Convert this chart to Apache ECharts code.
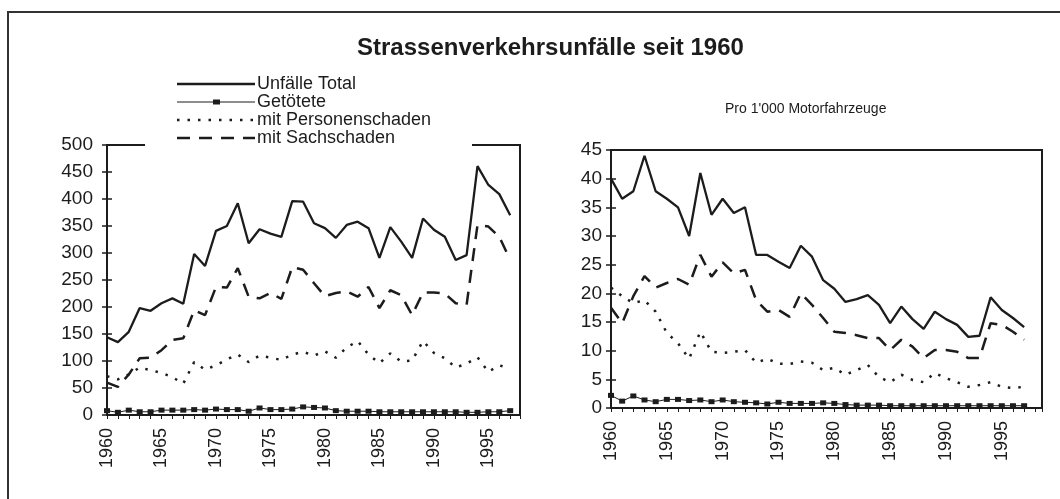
<!DOCTYPE html>
<html><head><meta charset="utf-8">
<script src="https://cdn.jsdelivr.net/npm/echarts@6/dist/echarts.min.js"></script>
<style>html,body{margin:0;padding:0;background:#fff}#c{width:1060px;height:499px}</style>
</head><body><div id="c"></div>
<script>
// ---- data ----
const years = [1960,1961,1962,1963,1964,1965,1966,1967,1968,1969,1970,1971,1972,1973,1974,1975,1976,1977,1978,1979,
               1980,1981,1982,1983,1984,1985,1986,1987,1988,1989,1990,1991,1992,1993,1994,1995,1996,1997];
const seriesNames = ['Unfälle Total','Getötete','mit Personenschaden','mit Sachschaden'];
// absolute (left chart)
const totalAbs  = [144,135,154,198,193,207,216,206,298,276,341,350,392,318,344,336,330,396,395,355,346,328,352,358,346,291,348,321,291,364,343,330,287,296,461,426,409,370];
const deathsAbs = [8,5,9,6,6,9,9,9,10,9,11,10,10,7,13,10,10,11,15,14,13,8,7,7,7,6,6,6,6,6,6,6,6,5,5,6,6,8];
const injuryAbs = [72,66,75,88,83,78,70,58,98,84,92,103,112,98,110,106,102,112,117,110,118,106,125,137,112,96,114,99,101,137,115,105,88,95,107,80,92,86];
const damageAbs = [60,52,75,105,106,120,139,142,194,185,237,236,272,219,216,226,215,274,269,244,220,226,229,219,237,198,231,222,185,227,227,225,207,204,352,349,330,287];
// per 1'000 vehicles (right chart)
const totalRate  = [40,36.5,37.8,44,37.8,36.5,35,30,41,33.7,36.5,34,35,26.7,26.7,25.5,24.4,28.3,26.4,22.3,20.8,18.5,19,19.7,18,14.8,17.7,15.5,13.8,16.8,15.5,14.5,12.4,12.6,19.3,17.1,15.7,14.1];
const deathsRate = [2.2,1.2,2.1,1.4,1.1,1.5,1.5,1.3,1.4,1.1,1.4,1.1,1.0,0.9,0.7,1.0,0.8,0.8,0.8,0.9,0.8,0.6,0.5,0.5,0.5,0.4,0.4,0.4,0.4,0.4,0.4,0.4,0.4,0.4,0.4,0.4,0.4,0.4];
const injuryRate = [21,19.5,18.3,18.8,16.8,13.1,11.3,8.6,13.3,9.8,9.6,9.8,10.1,7.9,8.6,7.7,7.7,8.1,7.9,6.6,7.0,5.8,6.6,7.5,5.4,4.5,5.8,4.9,4.5,6.1,5.2,4.5,3.7,4.0,4.5,3.7,3.5,3.7];
const damageRate = [17.5,14.8,19.5,23,21,21.8,22.5,21.5,26.7,22.9,25.4,23.5,24.1,18.8,16.8,17.1,15.9,20,18,15.7,13.3,13.1,12.7,12.2,12.2,10.1,11.9,10.7,8.7,10.1,10.1,9.8,8.7,8.7,14.8,14.5,13.3,11.9];
const yearLabels = ['1960','1965','1970','1975','1980','1985','1990','1995'];
const titleText = 'Strassenverkehrsunfälle seit 1960';
const subTitleText = "Pro 1'000 Motorfahrzeuge";

// ---- styling ----
const FONT = "'Liberation Sans', Arial, sans-serif";
const INK = '#1c1c1c';
const styles = [
  {lineStyle:{color:INK,width:2.3,type:'solid'}, symbol:'none'},
  {lineStyle:{color:INK,width:1,type:'solid'}, symbol:'rect', symbolSize:[6,5]},
  {lineStyle:{color:INK,width:2.5,type:[2.5,8]}, symbol:'none'},
  {lineStyle:{color:INK,width:2.5,type:[13,9]}, symbol:'none'}
];
const pair = arr => years.map((y,i)=>[y,arr[i]]);

function xAxisFor(gi, max){
  return {type:'value', gridIndex:gi, min:1960, max:max, interval:1,
    axisLine:{show:true, onZero:false, lineStyle:{color:INK,width:2}},
    axisTick:{show:true, length:4, lineStyle:{color:INK,width:1}},
    splitLine:{show:false},
    axisLabel:{rotate:90, margin:13, fontSize:18, fontFamily:FONT, color:INK,
      formatter: v => yearLabels.indexOf(String(v))>=0 ? String(v) : ''}};
}
function yAxesFor(gi, max, interval, margin){
  return [
    {type:'value', gridIndex:gi, min:0, max:max, interval:interval,
      axisLine:{show:true, lineStyle:{color:INK,width:2}},
      axisTick:{show:true, inside:false, length:5, lineStyle:{color:INK,width:1.5}},
      splitLine:{show:false},
      axisLabel:{fontSize:19, fontFamily:FONT, color:INK, margin:margin}},
    {type:'value', gridIndex:gi, min:0, max:max, interval:interval, position:'left',
      axisLine:{show:false}, axisLabel:{show:false}, splitLine:{show:false},
      axisTick:{show:true, inside:true, length:5, lineStyle:{color:INK,width:1.5}}}
  ];
}

const absData = [totalAbs, deathsAbs, injuryAbs, damageAbs];
const rateData = [totalRate, deathsRate, injuryRate, damageRate];
const series = [];
seriesNames.forEach((n,i)=>{
  series.push(Object.assign({type:'line', name:n, xAxisIndex:0, yAxisIndex:0, data:pair(absData[i]),
    itemStyle:{color:INK}, silent:true}, styles[i]));
  series.push(Object.assign({type:'line', name:n, xAxisIndex:1, yAxisIndex:2, data:pair(rateData[i]),
    itemStyle:{color:INK}, silent:true}, styles[i]));
});

// legend drawn as graphic
const legendRows = [84,102,120,138];
const legendX0 = 177, legendX1 = 255;
const legendGraphics = [{type:'rect', z:100, shape:{x:145,y:139,width:327,height:9}, style:{fill:'#fff'}}];
seriesNames.forEach((n,i)=>{
  const y = legendRows[i];
  const ls = styles[i].lineStyle;
  legendGraphics.push({type:'line', z:101, shape:{x1:legendX0,y1:y,x2:legendX1,y2:y},
    style:{stroke:INK, lineWidth:ls.width, lineDash: Array.isArray(ls.type)?ls.type:null}});
  if (styles[i].symbol==='rect') legendGraphics.push({type:'rect', z:102, shape:{x:213,y:y-2.5,width:7,height:5}, style:{fill:INK}});
  legendGraphics.push({type:'text', z:101, style:{text:n, x:257, y:y, verticalAlign:'middle', font:'18px '+FONT, fill:INK}});
});

const option = {
  animation:false,
  backgroundColor:'#fff',
  title:[
    {text:titleText, left:352, top:31, textStyle:{fontSize:24, fontWeight:'bold', fontFamily:FONT, color:INK}},
    {text:subTitleText, left:720, top:97, textStyle:{fontSize:14, fontWeight:'normal', fontFamily:FONT, color:INK}}
  ],
  grid:[
    {left:107, top:145, width:413, height:270, show:true, borderColor:INK, borderWidth:2, backgroundColor:'transparent'},
    {left:611, top:150, width:431, height:258, show:true, borderColor:INK, borderWidth:2, backgroundColor:'transparent'}
  ],
  xAxis:[xAxisFor(0,1997.9), xAxisFor(1,1998.6)],
  yAxis:[].concat(yAxesFor(0,500,50,14), yAxesFor(1,45,5,9)),
  series: series,
  graphic:[{type:'rect', z:-1, shape:{x:8,y:12,width:1200,height:700}, style:{fill:'none', stroke:'#333', lineWidth:2}}].concat(legendGraphics)
};
const chart = echarts.init(document.getElementById('c'), null, {renderer:'canvas'});
chart.setOption(option);
</script></body></html>
